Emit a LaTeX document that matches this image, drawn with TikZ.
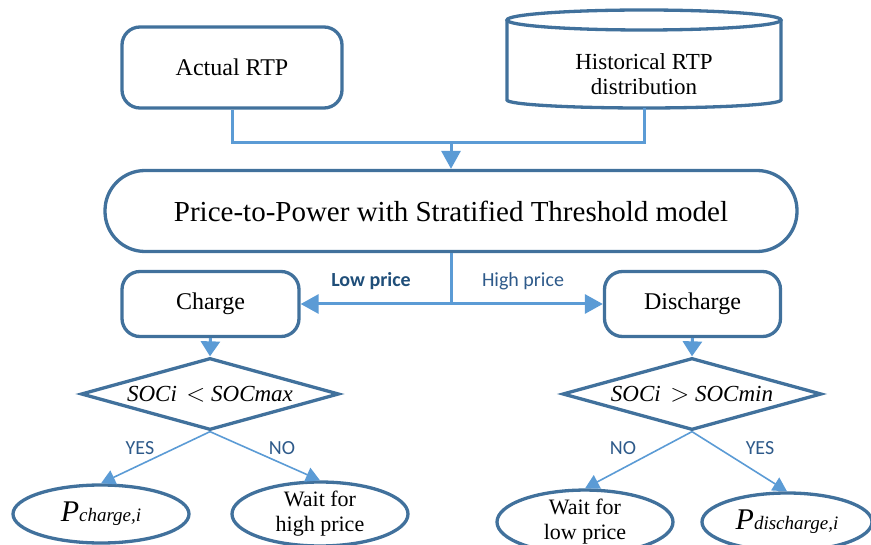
\documentclass[tikz,border=0pt]{standalone}
\usepackage{fontspec}
\setmainfont{Liberation Serif}
\newfontfamily\calfont{Carlito}
\usetikzlibrary{shapes.geometric,arrows.meta}
\definecolor{edgeblue}{HTML}{41719C}
\definecolor{linkblue}{HTML}{5B9BD5}
\definecolor{labblue}{HTML}{1F4E79}
\definecolor{labblue2}{HTML}{2E5A8A}
\tikzset{
  boxline/.style={draw=edgeblue, line width=3.3pt, fill=white},
  rbox/.style={boxline, rectangle, rounded corners=18pt, align=center, font=\fontsize{24}{27}\selectfont, inner sep=0pt},
  dbox/.style={boxline, diamond, aspect=3.58, inner sep=0pt, font=\fontsize{23}{26}\selectfont\itshape},
  ebox/.style={boxline, ellipse, inner sep=0pt, align=center, font=\fontsize{22}{25}\selectfont},
  conn/.style={draw=linkblue, line width=3pt},
  thin conn/.style={draw=linkblue, line width=1.6pt, -{Triangle[length=14pt,width=15pt]}},
  tip/.style={-{Triangle[length=18pt,width=19pt]}},
  lab/.style={font=\calfont\fontsize{20}{22}\selectfont, text=labblue2},
}
\begin{document}
\begin{tikzpicture}[x=1pt,y=-1pt]
\useasboundingbox (0,0) rectangle (871,545);
% top boxes
\node[rbox, minimum width=220pt, minimum height=81pt] (actual) at (232,67.5) {Actual RTP};
\draw[boxline] (507,20) -- (507,100) arc[start angle=180,end angle=0,x radius=137,y radius=8] -- (781,20);
\draw[boxline] (644,20) ellipse [x radius=137, y radius=10];
\node[align=center, font=\fontsize{23}{25}\selectfont] (hist) at (644,74) {Historical RTP\\distribution};
\coordinate (histb) at (644,108);
% main box
\node[boxline, rectangle, rounded corners=40pt, minimum width=692pt, minimum height=81pt, inner sep=0pt, font=\fontsize{29}{32}\selectfont] (main) at (451,211) {Price-to-Power with Stratified Threshold model};
\coordinate (join) at (451,143);
\draw[conn] (actual.south) |- (join) -| (histb);
\draw[conn, tip] (join) -- (main.north);
% charge / discharge
\node[rbox, minimum width=177pt, minimum height=65pt] (charge) at (210.5,304) {Charge};
\node[rbox, minimum width=176pt, minimum height=65pt] (discharge) at (692.5,304) {Discharge};
\coordinate (split) at (451,304);
\draw[conn] (main.south) -- (split);
\draw[conn, tip] (split) -- (charge.east);
\draw[conn, tip] (split) -- (discharge.west);
\node[lab, font=\calfont\bfseries\fontsize{20}{22}\selectfont, text=labblue] (low) at (371,281) {Low price};
\node[lab] (high) at (523,281) {High price};
% diamonds
\node[dbox, minimum width=258pt, minimum height=72pt] (dl) at (210,394) {SOCi\, $<$ SOCmax};
\node[dbox, minimum width=259pt, minimum height=72pt] (dr) at (692,394) {SOCi\, $>$ SOCmin};
\draw[conn, -{Triangle[length=15pt,width=19pt]}] (charge.south) -- (dl.north);
\draw[conn, -{Triangle[length=15pt,width=19pt]}] (discharge.south) -- (dr.north);
% ellipses
\node[ebox, minimum width=176pt, minimum height=58pt] (pc) at (101,514) {\fontsize{30}{30}\selectfont\itshape P\fontsize{19}{20}\selectfont charge,i};
\node[ebox, minimum width=176pt, minimum height=58pt] (wh) at (320,514) {Wait for\\high price};
\node[ebox, minimum width=176pt, minimum height=58pt] (wl) at (585,522) {Wait for\\low price};
\node[ebox, minimum width=170pt, minimum height=58pt] (pd) at (787,522) {\fontsize{30}{30}\selectfont\itshape P\fontsize{19}{20}\selectfont discharge,i};
\draw[thin conn] (dl.south) -- (pc.north);
\draw[thin conn] (dl.south) -- (wh.north);
\draw[thin conn] (dr.south) -- (wl.north);
\draw[thin conn] (dr.south) -- (pd.north);
\node[lab] (y1) at (140,448) {YES};
\node[lab] (n1) at (282,448) {NO};
\node[lab] (n2) at (623,448) {NO};
\node[lab] (y2) at (760,448) {YES};
\end{tikzpicture}
\end{document}
